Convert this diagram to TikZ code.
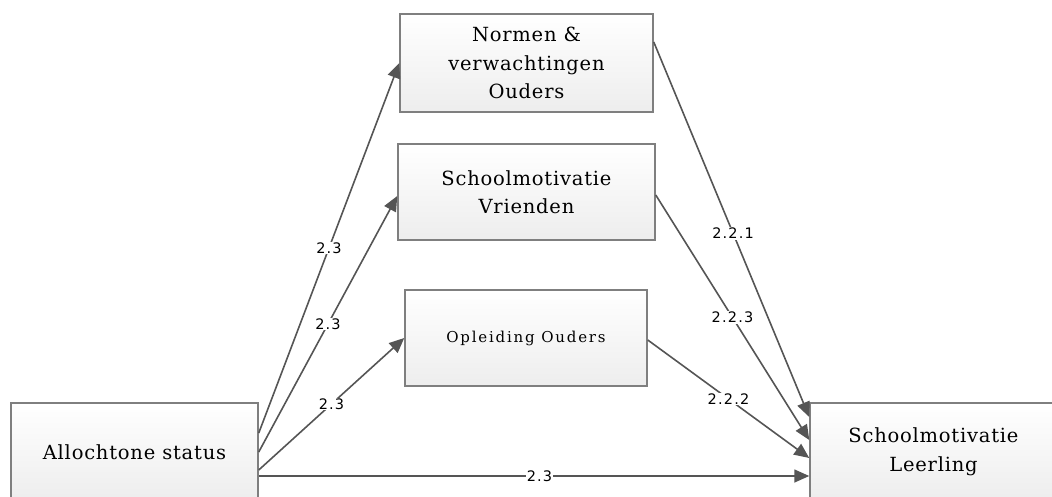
\documentclass[tikz,border=0pt]{standalone}
\usepackage{fontspec}
\setmainfont{DejaVu Serif}[LetterSpace=4]
\newfontfamily\labelfont[LetterSpace=8]{DejaVu Sans}
\newfontfamily\smallfont[LetterSpace=12]{DejaVu Serif}
\usepackage{tikz}
\usetikzlibrary{arrows.meta}
\definecolor{boxline}{HTML}{7F7F7F}
\definecolor{arrowline}{HTML}{555555}

\begin{document}
\begin{tikzpicture}[x=1pt,y=-1pt,
    box/.style={draw=boxline,line width=1.5pt,top color=white,bottom color=black!7,
      align=center,font=\fontsize{19.5}{28.5}\selectfont,inner sep=2pt},
    pad/.style={-{Triangle[width=13pt,length=15pt]},draw=arrowline,line width=1.6pt},
    lbl/.style={fill=white,inner sep=1pt,font=\labelfont\fontsize{14.5}{16}\selectfont}]
          \useasboundingbox (0,0) rectangle (1052,497);
          \node[box,minimum width=247pt,minimum height=98pt] (allo) at (134.5,452) {Allochtone status};
          \node[box,minimum width=247pt,minimum height=98pt] (leer) at (933.5,452) {Schoolmotivatie\\Leerling};
          \node[box,minimum width=253pt,minimum height=98pt] (norm) at (526.5,63) {Normen \&\\verwachtingen\\Ouders};
          \node[box,minimum width=257pt,minimum height=96pt] (vrie) at (526.5,192) {Schoolmotivatie\\Vrienden};
          \node[box,minimum width=242pt,minimum height=96pt,font=\smallfont\fontsize{15}{18}\selectfont] (ople) at (526,338) {Opleiding Ouders};
          \draw[pad] ([yshift=19pt]allo.east) -- (norm.west) node[lbl,pos=0.5]{2.3};
          \draw[pad] (allo.east) -- ([yshift=-4pt]vrie.west) node[lbl,pos=0.5]{2.3};
          \draw[pad] ([yshift=-18pt]allo.east) -- (ople.west) node[lbl,pos=0.5]{2.3};
          \draw[pad] ([yshift=-24pt]allo.east) -- ([yshift=-24pt]leer.west) node[lbl,pos=0.51]{2.3};
          \draw[pad] ([yshift=21pt]norm.east) -- ([yshift=35pt]leer.west) node[lbl,pos=0.51]{2.2.1};
          \draw[pad] ([yshift=-3pt]vrie.east) -- ([yshift=12pt]leer.west) node[lbl,pos=0.5]{2.2.3};
          \draw[pad] ([yshift=-2pt]ople.east) -- ([yshift=-6pt]leer.west) node[lbl,pos=0.5]{2.2.2};
        \end{tikzpicture}
\end{document}
